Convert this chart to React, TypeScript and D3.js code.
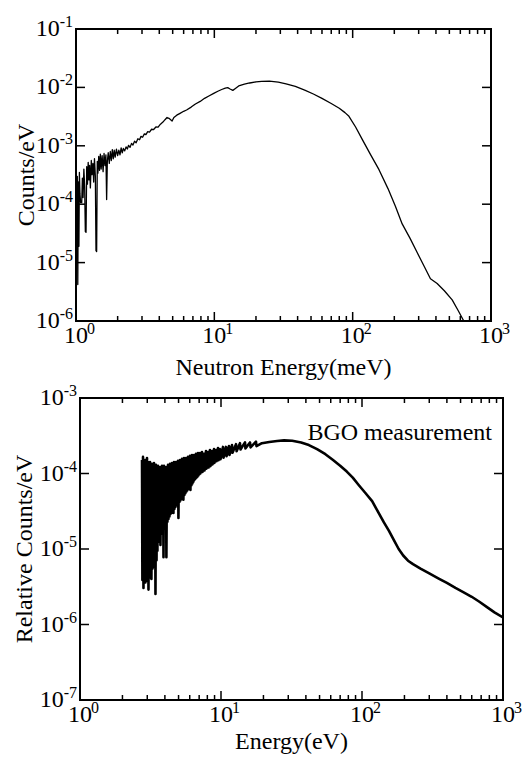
import React from 'react';
import * as d3 from 'd3';

// ---------- Top panel: neutron spectrum (meV, Counts/eV) ----------
const topEnergy = [
  1.003, 1.012, 1.022, 1.03, 1.04, 1.05, 1.058, 1.068, 1.08, 1.1,
  1.112, 1.125, 1.14, 1.155, 1.168, 1.182, 1.195, 1.21, 1.225, 1.24,
  1.255, 1.27, 1.29, 1.305, 1.325, 1.342, 1.36, 1.38, 1.395, 1.41,
  1.425, 1.44, 1.46, 1.48, 1.5, 1.52, 1.545, 1.57, 1.595, 1.62,
  1.645, 1.665, 1.685, 1.71, 1.74, 1.77, 1.8, 1.83, 1.86, 1.89,
  1.92, 1.96, 2.0, 2.04, 2.08, 2.12, 2.16, 2.2, 2.25, 2.3,
  2.35, 2.4, 2.46, 2.52, 2.58, 2.65, 2.72, 2.8, 2.88, 2.95,
  3.03, 3.12, 3.2, 3.3, 3.4, 3.52, 3.64, 3.78, 3.92, 4.08,
  4.25, 4.4, 4.55, 4.7, 4.95, 5.1, 5.35, 5.65, 6.0, 6.3,
  6.8, 7.3, 7.9, 8.5, 9.2, 9.9, 10.6, 11.3, 12.0, 12.5,
  13.0, 13.6, 14.2, 15.0, 16.5, 18, 20, 22, 25, 29,
  33, 38.5, 45, 52, 60, 70, 80, 88, 94, 105,
  117, 135, 155, 180, 204, 228, 260, 292, 330, 365,
  408, 460, 524, 580, 636, 680,
];
const topCounts = [
  2.2e-4, 1.4e-4, 3.0e-4, 4.2e-6, 2.4e-4, 1.9e-5, 3.5e-4, 1.5e-4, 1.06e-4, 1.06e-4,
  2.8e-4, 1.3e-4, 4.0e-4, 2.0e-4, 3.4e-5, 3.3e-5, 4.4e-4, 2.2e-4, 5.2e-4, 2.6e-4,
  4.6e-4, 1.9e-4, 5.6e-4, 3.2e-4, 5.0e-4, 2.4e-4, 6.0e-4, 3.0e-4, 1.6e-5, 1.55e-5,
  5.4e-4, 3.4e-4, 6.6e-4, 3.8e-4, 7.2e-4, 4.0e-4, 6.8e-4, 3.6e-4, 7.4e-4, 4.6e-4,
  7.0e-4, 1.2e-4, 5.5e-4, 7.6e-4, 5.0e-4, 8.0e-4, 5.6e-4, 8.6e-4, 6.0e-4, 8.4e-4,
  6.4e-4, 8.8e-4, 6.8e-4, 8.4e-4, 7.0e-4, 9.2e-4, 7.6e-4, 9.0e-4, 8.2e-4, 9.6e-4,
  8.8e-4, 1.02e-3, 9.4e-4, 1.1e-3, 1.03e-3, 1.2e-3, 1.13e-3, 1.32e-3, 1.27e-3, 1.45e-3,
  1.4e-3, 1.6e-3, 1.55e-3, 1.75e-3, 1.72e-3, 1.92e-3, 1.9e-3, 2.1e-3, 2.08e-3, 2.35e-3,
  2.55e-3, 2.8e-3, 3.05e-3, 2.95e-3, 2.65e-3, 3.05e-3, 3.35e-3, 3.6e-3, 3.9e-3, 4.1e-3,
  4.6e-3, 5.2e-3, 5.75e-3, 6.5e-3, 7.2e-3, 7.9e-3, 8.6e-3, 9.2e-3, 9.7e-3, 9.9e-3,
  9.4e-3, 8.9e-3, 9.6e-3, 1.06e-2, 1.14e-2, 1.19e-2, 1.24e-2, 1.27e-2, 1.28e-2, 1.23e-2,
  1.15e-2, 1.04e-2, 9.0e-3, 7.7e-3, 6.5e-3, 5.3e-3, 4.4e-3, 3.7e-3, 3.2e-3, 2.1e-3,
  1.3e-3, 7.0e-4, 3.9e-4, 1.85e-4, 9.1e-5, 4.6e-5, 2.6e-5, 1.5e-5, 8.5e-6, 5.3e-6,
  4.4e-6, 3.3e-6, 2.3e-6, 1.5e-6, 1.0e-6, 7.5e-7,
];

// ---------- Bottom panel: BGO measurement (eV, Relative Counts/eV) ----------
const bgoEnergy = [
  2.753, 2.77, 2.798, 2.82, 2.844, 2.87, 2.891, 2.91, 2.938, 2.96,
  2.987, 3.01, 3.036, 3.06, 3.086, 3.11, 3.137, 3.16, 3.188, 3.21,
  3.241, 3.27, 3.294, 3.32, 3.348, 3.37, 3.404, 3.43, 3.459, 3.49,
  3.516, 3.54, 3.574, 3.6, 3.633, 3.66, 3.693, 3.72, 3.753, 3.78,
  3.815, 3.84, 3.878, 3.91, 3.942, 3.97, 4.006, 4.04, 4.072, 4.1,
  4.14, 4.17, 4.208, 4.24, 4.277, 4.31, 4.347, 4.38, 4.419, 4.45,
  4.491, 4.52, 4.565, 4.6, 4.641, 4.67, 4.717, 4.75, 4.795, 4.83,
  4.874, 4.91, 4.954, 4.99, 5.036, 5.07, 5.119, 5.15, 5.2, 5.24,
  5.289, 5.33, 5.375, 5.41, 5.464, 5.5, 5.554, 5.59, 5.646, 5.69,
  5.74, 5.78, 5.834, 5.87, 5.93, 5.97, 6.027, 6.07, 6.127, 6.17,
  6.227, 6.27, 6.33, 6.37, 6.434, 6.47, 6.54, 6.58, 6.647, 6.69,
  6.757, 6.8, 6.868, 6.91, 6.98, 7.02, 7.096, 7.14, 7.33, 7.39,
  7.576, 7.64, 7.828, 7.89, 8.087, 8.15, 8.35, 8.42, 8.636, 8.71,
  8.92, 8.99, 9.216, 9.29, 9.522, 9.6, 9.838, 9.92, 10.33, 10.42,
  10.85, 10.95, 11.39, 11.49, 11.97, 12.07, 12.78, 12.9, 13.63, 13.75,
  14.8, 14.9, 16.06, 16.2, 17.7, 17.85,
  19.5, 22, 25, 28, 32, 37, 42, 48, 55, 62,
  70, 78, 86, 95, 105, 118, 130, 143, 155, 168,
  182, 196, 212, 230, 260, 300, 350, 400, 460, 530,
  600, 680, 770, 870, 1000,
];
const bgoCounts = [
  1.51e-4, 3.9e-6, 1.66e-4, 3.04e-6, 1.42e-4, 4.2e-6, 1.51e-4, 3.6e-6, 1.3e-4, 4.5e-6,
  1.6e-4, 3.8e-6, 1.42e-4, 2.9e-6, 1.3e-4, 4.2e-6, 1.42e-4, 4.8e-6, 1.22e-4, 4.0e-6,
  1.34e-4, 5.5e-6, 1.26e-4, 6.5e-6, 1.38e-4, 5.8e-6, 1.18e-4, 2.54e-6, 1.3e-4, 7.1e-6,
  1.15e-4, 9.5e-6, 1.26e-4, 1.25e-5, 1.11e-4, 1.45e-5, 1.22e-4, 1.13e-5, 1.11e-4, 1.6e-5,
  1.26e-4, 1.8e-5, 1.15e-4, 7.8e-6, 1.26e-4, 2.1e-5, 1.11e-4, 2.2e-5, 1.22e-4, 7.8e-6,
  1.15e-4, 2.3e-5, 1.3e-4, 2.5e-5, 1.18e-4, 2.7e-5, 1.34e-4, 2.9e-5, 1.22e-4, 3.0e-5,
  1.38e-4, 3.2e-5, 1.26e-4, 3.0e-5, 1.42e-4, 3.4e-5, 1.3e-4, 3.6e-5, 1.42e-4, 3.8e-5,
  1.34e-4, 4.0e-5, 1.47e-4, 2.58e-5, 1.38e-4, 4.2e-5, 1.51e-4, 4.4e-5, 1.42e-4, 4.6e-5,
  1.56e-4, 4.8e-5, 1.47e-4, 4.5e-5, 1.6e-4, 5.2e-5, 1.47e-4, 5.5e-5, 1.6e-4, 5.8e-5,
  1.51e-4, 6.0e-5, 1.66e-4, 6.3e-5, 1.56e-4, 6.6e-5, 1.71e-4, 6.05e-5, 1.6e-4, 7.0e-5,
  1.76e-4, 7.4e-5, 1.66e-4, 7.8e-5, 1.76e-4, 8.2e-5, 1.66e-4, 8.5e-5, 1.82e-4, 8.8e-5,
  1.71e-4, 9.1e-5, 1.87e-4, 9.4e-5, 1.76e-4, 9.8e-5, 1.87e-4, 1.0e-4, 1.93e-4, 1.05e-4,
  1.82e-4, 1.1e-4, 1.99e-4, 1.16e-4, 1.93e-4, 1.2e-4, 2.05e-4, 1.25e-4, 1.99e-4, 1.32e-4,
  2.11e-4, 1.38e-4, 2.05e-4, 1.45e-4, 2.18e-4, 1.5e-4, 2.11e-4, 1.55e-4, 2.25e-4, 1.62e-4,
  2.25e-4, 1.7e-4, 2.31e-4, 1.76e-4, 2.38e-4, 1.88e-4, 2.45e-4, 1.97e-4, 2.52e-4, 2.08e-4,
  2.58e-4, 2.15e-4, 2.58e-4, 2.22e-4, 2.64e-4, 2.3e-4,
  2.52e-4, 2.62e-4, 2.7e-4, 2.75e-4, 2.72e-4, 2.58e-4, 2.38e-4, 2.1e-4, 1.8e-4, 1.52e-4,
  1.27e-4, 1.06e-4, 8.8e-5, 7.0e-5, 5.6e-5, 4.3e-5, 3.1e-5, 2.25e-5, 1.75e-5, 1.32e-5,
  1.0e-5, 8.2e-6, 7.0e-6, 6.3e-6, 5.5e-6, 4.75e-6, 4.05e-6, 3.55e-6, 3.05e-6, 2.65e-6,
  2.33e-6, 2.0e-6, 1.7e-6, 1.45e-6, 1.24e-6,
];

// ---------- Axes ----------
const xDecades = [1, 10, 100, 1000];
const xMinorMultipliers = [2, 3, 4, 5, 6, 7, 8, 9];
const topYDecades = [1e-6, 1e-5, 1e-4, 1e-3, 1e-2, 1e-1];
const bottomYDecades = [1e-7, 1e-6, 1e-5, 1e-4, 1e-3];
const topXTitle = 'Neutron Energy(meV)';
const topYTitle = 'Counts/eV';
const bottomXTitle = 'Energy(eV)';
const bottomYTitle = 'Relative Counts/eV';
const bottomLegend = 'BGO measurement';

const FONT = '"Liberation Serif", "DejaVu Serif", "Times New Roman", Times, serif';

type PanelProps = {
  id: string;
  left: number; top: number; right: number; bottom: number;
  yDecades: number[];
  energy: number[];
  counts: number[];
  lineWidth: number;
  xTitle: string; xTitleY: number;
  yTitle: string; yTitleX: number;
  legend?: string;
};

function exponent(v: number) {
  return String(Math.round(Math.log10(v)));
}

function Panel(p: PanelProps) {
  const x = d3.scaleLog().domain([xDecades[0], xDecades[xDecades.length - 1]]).range([p.left, p.right]);
  const y = d3.scaleLog().domain([p.yDecades[0], p.yDecades[p.yDecades.length - 1]]).range([p.bottom, p.top]);
  const pts: [number, number][] = p.energy.map((e, i) => [e, p.counts[i]]);
  const line = d3.line<[number, number]>().x(d => x(d[0])).y(d => y(d[1]));
  const minors: number[] = [];
  xDecades.slice(0, -1).forEach(dec => xMinorMultipliers.forEach(m => minors.push(dec * m)));
  const MAJ = 9, MIN = 5;
  const txt = { fontFamily: FONT };
  return (
    <g>
      <defs>
        <clipPath id={p.id}>
          <rect x={p.left} y={p.top} width={p.right - p.left} height={p.bottom - p.top} />
        </clipPath>
      </defs>
      <path d={line(pts) || ''} fill="none" stroke="#000" strokeWidth={p.lineWidth}
        strokeLinejoin="round" clipPath={`url(#${p.id})`} />
      <g stroke="#000" strokeWidth={1.5}>
        {xDecades.map(v => (
          <g key={'xM' + v}>
            <line x1={x(v)} x2={x(v)} y1={p.bottom} y2={p.bottom - MAJ} />
            <line x1={x(v)} x2={x(v)} y1={p.top} y2={p.top + MAJ} />
          </g>
        ))}
        {minors.map(v => (
          <g key={'xm' + v}>
            <line x1={x(v)} x2={x(v)} y1={p.bottom} y2={p.bottom - MIN} />
            <line x1={x(v)} x2={x(v)} y1={p.top} y2={p.top + MIN} />
          </g>
        ))}
        {p.yDecades.map(v => (
          <g key={'yM' + v}>
            <line x1={p.left} x2={p.left + MAJ} y1={y(v)} y2={y(v)} />
            <line x1={p.right} x2={p.right - MAJ} y1={y(v)} y2={y(v)} />
          </g>
        ))}
      </g>
      <rect x={p.left} y={p.top} width={p.right - p.left} height={p.bottom - p.top}
        fill="none" stroke="#000" strokeWidth={2} />
      <g fill="#000">
        {xDecades.map(v => (
          <g key={'xl' + v}>
            <text style={txt} x={x(v)} y={p.bottom + 22} fontSize={24} textAnchor="middle">10</text>
            <text style={txt} x={x(v) + 11} y={p.bottom + 13} fontSize={16}>{exponent(v)}</text>
          </g>
        ))}
        {p.yDecades.map(v => (
          <text style={txt} key={'yl' + v} x={p.left - 3} y={y(v) + 7} fontSize={24} textAnchor="end">
            10<tspan dy={-9} fontSize={16}>{exponent(v)}</tspan>
          </text>
        ))}
        <text style={txt} x={(p.left + p.right) / 2} y={p.xTitleY} fontSize={24} textAnchor="middle">{p.xTitle}</text>
        <text style={txt} transform={`translate(${p.yTitleX},${(p.top + p.bottom) / 2}) rotate(-90)`}
          fontSize={24} textAnchor="middle">{p.yTitle}</text>
        {p.legend ? (
          <text style={txt} x={p.right - 11} y={p.top + 42} fontSize={24} textAnchor="end">{p.legend}</text>
        ) : null}
      </g>
    </g>
  );
}

export default function App() {
  return (
    <svg width={524} height={758} viewBox="0 0 524 758"
      style={{ position: 'absolute', left: 0, top: 0, background: '#fff' }}>
      <rect x={0} y={0} width={524} height={758} fill="#fff" />
      <Panel id="clipTop" left={76} top={29} right={491} bottom={321}
        yDecades={topYDecades} energy={topEnergy} counts={topCounts} lineWidth={1.3}
        xTitle={topXTitle} xTitleY={375} yTitle={topYTitle} yTitleX={34} />
      <Panel id="clipBottom" left={80} top={398} right={503} bottom={700}
        yDecades={bottomYDecades} energy={bgoEnergy} counts={bgoCounts} lineWidth={2.6}
        xTitle={bottomXTitle} xTitleY={749} yTitle={bottomYTitle} yTitleX={32}
        legend={bottomLegend} />
    </svg>
  );
}
